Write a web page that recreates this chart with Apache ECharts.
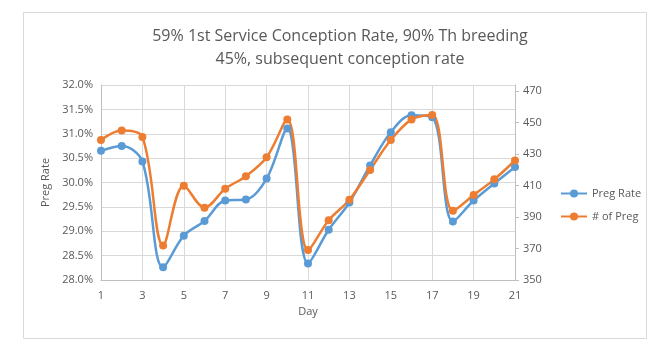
<!DOCTYPE html>
<html>
<head>
<meta charset="utf-8">
<script src="https://cdn.jsdelivr.net/npm/echarts@6/dist/echarts.min.js"></script>
<style>html,body{margin:0;padding:0;background:#fff}#c{width:659px;height:349px}</style>
</head>
<body>
<div id="c"></div>
<script>
const days = ['1','2','3','4','5','6','7','8','9','10','11','12','13','14','15','16','17','18','19','20','21'];
const pregRate = [30.65, 30.75, 30.43, 28.26, 28.91, 29.21, 29.63, 29.65, 30.08, 31.11, 28.34, 29.03, 29.59, 30.35, 31.03, 31.38, 31.34, 29.20, 29.63, 29.98, 30.32];
const numPreg = [439, 445, 441, 372, 410, 396, 408, 416, 428, 452, 369, 388, 401, 420, 439, 452, 455, 394, 404, 414, 426];
const titleLines = ['59% 1st Service Conception Rate, 90% Th breeding', '45%, subsequent conception rate'];

const txt = '#595959';
const font = "'Open Sans', sans-serif";
const chart = echarts.init(document.getElementById('c'));
chart.setOption({
  animation: false,
  textStyle: {fontFamily: font},
  graphic: [{type: 'rect', shape: {x: 23.5, y: 12.5, width: 623, height: 326}, style: {fill: 'none', stroke: '#d9d9d9', lineWidth: 1}, z: -1}],
  title: {
    text: titleLines.join('\n'), left: 335, top: 20, textAlign: 'center',
    textStyle: {color: txt, fontSize: 16, fontWeight: 'normal', fontFamily: font, lineHeight: 23}
  },
  legend: {
    orient: 'vertical', left: 555, top: 183, itemWidth: 26, itemHeight: 10, itemGap: 12,
    textStyle: {color: txt, fontSize: 11, fontFamily: font},
    data: ['Preg Rate', '# of Preg']
  },
  grid: {left: 101, right: 144, top: 85, bottom: 69},
  xAxis: {
    type: 'category', data: days, boundaryGap: false,
    name: 'Day', nameLocation: 'middle', nameGap: 24,
    nameTextStyle: {color: txt, fontSize: 11},
    axisLine: {lineStyle: {color: '#bfbfbf'}},
    axisTick: {show: false},
    axisLabel: {interval: 1, color: txt, fontSize: 11, margin: 10},
    splitLine: {show: true, interval: 1, lineStyle: {color: '#d9d9d9'}}
  },
  yAxis: [{
    type: 'value', min: 28, max: 32, interval: 0.5,
    name: 'Preg Rate', nameLocation: 'middle', nameGap: 47, nameRotate: 90,
    nameTextStyle: {color: txt, fontSize: 11},
    axisLine: {show: true, lineStyle: {color: '#bfbfbf'}},
    axisTick: {show: false},
    axisLabel: {color: txt, fontSize: 11, margin: 8, formatter: v => v.toFixed(1) + '%'},
    splitLine: {lineStyle: {color: '#d9d9d9'}}
  }, {
    type: 'value', min: 350, max: 474, interval: 20, position: 'right',
    axisLine: {show: true, lineStyle: {color: '#bfbfbf'}},
    axisTick: {show: true, length: 4, lineStyle: {color: '#bfbfbf'}},
    axisLabel: {color: txt, fontSize: 11, margin: 8, showMaxLabel: false, formatter: v => (v % 20 === 10 ? String(v) : '')},
    splitLine: {show: false}
  }],
  series: [{
    name: 'Preg Rate', type: 'line', yAxisIndex: 0, data: pregRate, smooth: 0.35,
    symbol: 'circle', symbolSize: 8,
    itemStyle: {color: '#5B9BD5'}, lineStyle: {width: 2.5, color: '#5B9BD5'}
  }, {
    name: '# of Preg', type: 'line', yAxisIndex: 1, data: numPreg, smooth: 0.35,
    symbol: 'circle', symbolSize: 8,
    itemStyle: {color: '#ED7D31'}, lineStyle: {width: 2.5, color: '#ED7D31'}
  }]
});
</script>
</body>
</html>
